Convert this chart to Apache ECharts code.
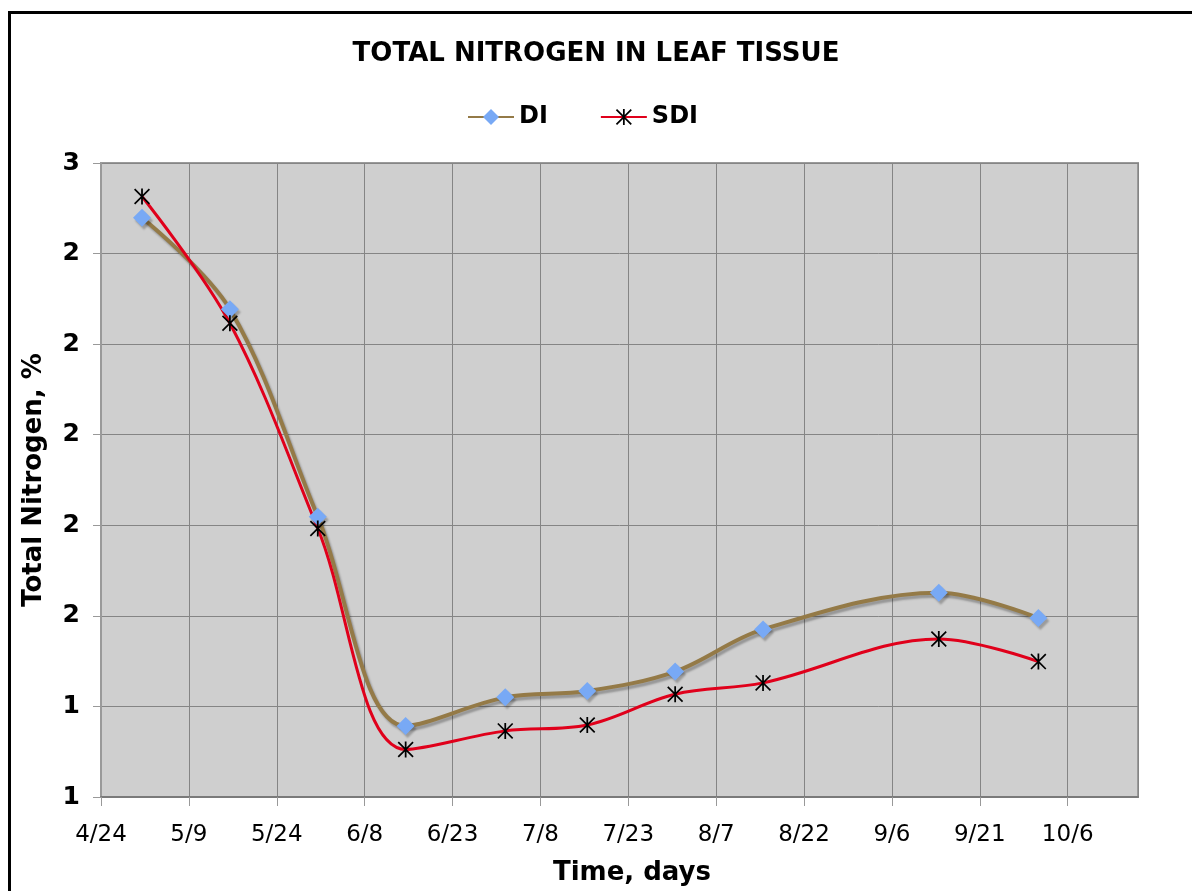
<!DOCTYPE html>
<html>
<head>
    <meta charset="utf-8">
    <title>Total Nitrogen in Leaf Tissue</title>
    <script src="https://cdn.jsdelivr.net/npm/echarts@6/dist/echarts.min.js"></script>
    <style>
        html, body { margin: 0; padding: 0; background: #fff; }
        #chart { width: 1192px; height: 891px; }
    </style>
</head>
<body>
    <div id="chart"></div>
    <script>
        // sampling dates (m/d) and measured total N, %
        var sampleDates = ['5/1', '5/16', '5/31', '6/15', '7/2', '7/16', '7/31', '8/15', '9/14', '10/1'];
        var diValues = [2.479, 2.277, 1.819, 1.357, 1.420, 1.434, 1.477, 1.570, 1.651, 1.595];
        var sdiValues = [2.526, 2.246, 1.793, 1.305, 1.346, 1.359, 1.427, 1.452, 1.549, 1.499];

        // x axis runs in days counted from 4/24
        var startDate = new Date(2005, 3, 24);
        var dayMs = 86400000;

        function toDay(md) {
            var p = md.split('/');
            var d = new Date(2005, +p[0] - 1, +p[1]);
            return Math.round((d - startDate) / dayMs);
        }
        function toLabel(day) {
            var d = new Date(2005, 3, 24 + day);
            return (d.getMonth() + 1) + '/' + d.getDate();
        }

        var di = [], sdi = [];
        for (var i = 0; i < sampleDates.length; i++) {
            di.push([toDay(sampleDates[i]), diValues[i]]);
            sdi.push([toDay(sampleDates[i]), sdiValues[i]]);
        }

        // 6-arm star marker (vertical bar + X), filled polygons
        var asterisk = 'path://M8.9,0 L11.1,0 L11.1,20 L8.9,20 Z' +
            ' M0,1.5 L1.5,0 L20,18.5 L18.5,20 Z' +
            ' M18.5,0 L20,1.5 L1.5,20 L0,18.5 Z';

        var myChart = echarts.init(document.getElementById('chart'));
        var option = {
            backgroundColor: '#fff',
            animation: false,
            textStyle: { fontFamily: 'DejaVu Sans' },
            title: {
                text: 'TOTAL NITROGEN IN LEAF TISSUE',
                left: 'center',
                top: 36,
                textStyle: { fontSize: 26, fontWeight: 'bold', color: '#000' }
            },
            legend: {
                top: 100,
                left: 462,
                itemWidth: 46,
                itemHeight: 20,
                itemGap: 52,
                textStyle: { fontSize: 24, fontWeight: 'bold', color: '#000' },
                data: ['DI', 'SDI']
            },
            graphic: [{
                type: 'rect',
                shape: { x: 9.5, y: 12.5, width: 1250, height: 950 },
                style: { fill: 'none', stroke: '#000', lineWidth: 3 },
                silent: true
            }],
            grid: {
                left: 101,
                top: 163,
                right: 54,
                bottom: 94,
                show: true,
                backgroundColor: '#cfcfcf',
                borderColor: '#9a9a9a',
                borderWidth: 2
            },
            xAxis: {
                type: 'value',
                min: 0,
                max: 177,
                interval: 15,
                name: 'Time, days',
                nameLocation: 'middle',
                nameGap: 63,
                nameTextStyle: { fontSize: 26, fontWeight: 'bold', color: '#000', padding: [0, 0, 0, 25] },
                axisLine: { show: true, lineStyle: { color: '#7a7a7a', width: 2 } },
                axisTick: { show: true, length: 9, lineStyle: { color: '#999' } },
                axisLabel: {
                    fontSize: 23,
                    color: '#000',
                    margin: 27,
                    showMaxLabel: false,
                    formatter: function (v) { return v % 15 === 0 ? toLabel(v) : ''; }
                },
                splitLine: { show: true, lineStyle: { color: '#858585', width: 1 } }
            },
            yAxis: {
                type: 'value',
                min: 1.2,
                max: 2.6,
                interval: 0.2,
                name: 'Total Nitrogen, %',
                nameLocation: 'middle',
                nameGap: 54,
                nameTextStyle: { fontSize: 26, fontWeight: 'bold', color: '#000' },
                axisLine: { show: true, lineStyle: { color: '#9a9a9a', width: 2 } },
                axisTick: { show: true, length: 8, lineStyle: { color: '#999' } },
                axisLabel: {
                    fontSize: 25,
                    fontWeight: 'bold',
                    color: '#000',
                    margin: 21,
                    formatter: function (v) { return Math.round(v); }
                },
                splitLine: { show: true, lineStyle: { color: '#858585', width: 1 } }
            },
            series: [
                {
                    name: 'DI',
                    type: 'line',
                    data: di,
                    smooth: 0.35,
                    symbol: 'diamond',
                    symbolSize: 18,
                    itemStyle: {
                        color: '#78a9f5',
                        shadowColor: 'rgba(0,0,0,0.25)',
                        shadowOffsetX: 2,
                        shadowOffsetY: 3,
                        shadowBlur: 2
                    },
                    lineStyle: {
                        color: '#947a47',
                        width: 4,
                        shadowColor: 'rgba(0,0,0,0.28)',
                        shadowOffsetX: 2,
                        shadowOffsetY: 3,
                        shadowBlur: 2
                    }
                },
                {
                    name: 'SDI',
                    type: 'line',
                    data: sdi,
                    smooth: 0.35,
                    symbol: asterisk,
                    symbolSize: 16,
                    itemStyle: { color: '#000' },
                    lineStyle: { color: '#e0001b', width: 3 }
                }
            ]
        };
        myChart.setOption(option, true);
    </script>
</body>
</html>
